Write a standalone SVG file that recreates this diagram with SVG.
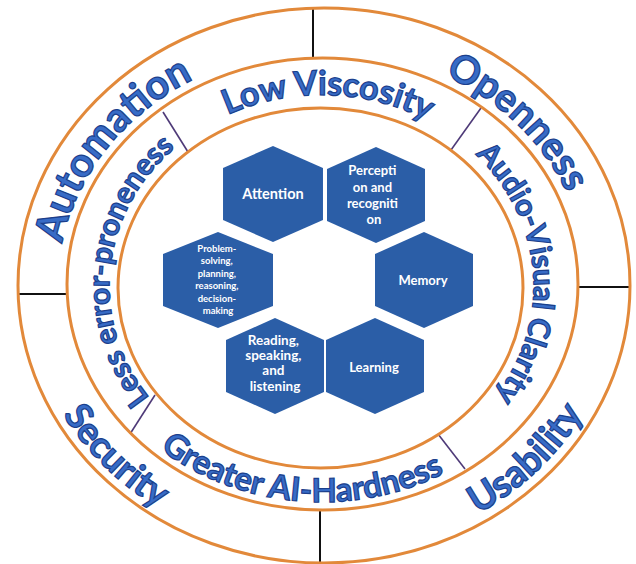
<svg xmlns="http://www.w3.org/2000/svg" xmlns:xlink="http://www.w3.org/1999/xlink" width="636" height="564" viewBox="0 0 636 564">
  <style>
    .ring { fill: none; stroke: #e2893a; stroke-width: 3; }
    .divider { stroke: #111111; stroke-width: 2; }
    .tick { stroke: #4e3a78; stroke-width: 1.6; }
    .hex { fill: #2b5ea7; }
    .hex-label { fill: #ffffff; font-family: Lato, "Noto Sans", sans-serif; font-weight: 700; text-anchor: middle; }
    .arc-label { font-family: Lato, "Noto Sans", sans-serif; font-weight: 700; fill: #376bc6; stroke: #1b3f8c; stroke-width: 1.2; }
  </style>
  <defs>
    <polygon id="hex" points="0,-48 49,-26 49,26 0,48 -49,26 -49,-26"/>
    <polygon id="hex-wide" points="0,-48 55,-26 55,26 0,48 -55,26 -55,-26"/>
    <!-- baselines for the ring labels -->
    <path id="p-low" d="M114.1,246.3 A212,191 0 0 1 531.4,259.4"/>
    <path id="p-audio" d="M343.7,96 A212,191 0 0 1 372.8,471.3"/>
    <path id="p-less" d="M266.6,470.5 A212,191 0 0 1 303,95.7"/>
    <path id="p-greater" d="M76.1,301.1 A246,216 0 0 0 558,345.5"/>
    <path id="p-auto" d="M142.3,457.6 A265,236 0 0 1 426.5,67.8"/>
    <path id="p-open" d="M190.5,80.6 A265,236 0 0 1 526,436.7"/>
    <path id="p-sec" d="M95.5,112.7 A297,268 0 0 0 471.5,517.1"/>
    <path id="p-usa" d="M170,514.7 A297,268 0 0 0 553.8,116.3"/>
  </defs>

  <rect width="636" height="564" fill="#ffffff"/>

  <!-- dividers between the ring segments -->
  <g id="connectors">
    <line class="divider" x1="313" y1="8" x2="313" y2="58"/>
    <line class="divider" x1="17" y1="294" x2="66" y2="294"/>
    <line class="divider" x1="579" y1="287" x2="630" y2="287"/>
    <line class="divider" x1="320" y1="510" x2="320" y2="563"/>
    <line class="tick" x1="163" y1="112" x2="188" y2="152"/>
    <line class="tick" x1="481" y1="108" x2="451" y2="150"/>
    <line class="tick" x1="155" y1="395" x2="130" y2="434"/>
    <line class="tick" x1="438" y1="434" x2="465" y2="469"/>
  </g>

  <!-- concentric rings -->
  <g id="rings">
    <ellipse class="ring" cx="324" cy="285.5" rx="306" ry="277.5"/>
    <ellipse class="ring" cx="322.5" cy="284" rx="255.5" ry="226"/>
    <ellipse class="ring" cx="320.5" cy="288" rx="202.5" ry="180"/>
  </g>

  <!-- outer ring labels -->
  <g id="automation"><text class="arc-label" font-size="41"><textPath xlink:href="#p-auto" href="#p-auto" startOffset="50%" text-anchor="middle">Automation</textPath></text></g>
  <g id="openness"><text class="arc-label" font-size="39"><textPath xlink:href="#p-open" href="#p-open" startOffset="50%" text-anchor="middle">Openness</textPath></text></g>
  <g id="security"><text class="arc-label" font-size="37"><textPath xlink:href="#p-sec" href="#p-sec" startOffset="50%" text-anchor="middle">Security</textPath></text></g>
  <g id="usability"><text class="arc-label" font-size="38"><textPath xlink:href="#p-usa" href="#p-usa" startOffset="50%" text-anchor="middle">Usability</textPath></text></g>

  <!-- middle ring labels -->
  <g id="low-viscosity"><text class="arc-label" font-size="34"><textPath xlink:href="#p-low" href="#p-low" startOffset="50%" text-anchor="middle">Low Viscosity</textPath></text></g>
  <g id="audio-visual-clarity"><text class="arc-label" font-size="30"><textPath xlink:href="#p-audio" href="#p-audio" startOffset="50%" text-anchor="middle">Audio-Visual Clarity</textPath></text></g>
  <g id="greater-ai-hardness"><text class="arc-label" font-size="33"><textPath xlink:href="#p-greater" href="#p-greater" startOffset="50%" text-anchor="middle">Greater AI-Hardness</textPath></text></g>
  <g id="less-error-proneness"><text class="arc-label" font-size="30"><textPath xlink:href="#p-less" href="#p-less" startOffset="50%" text-anchor="middle">Less error-proneness</textPath></text></g>

  <!-- cognitive-function hexagons -->
  <g id="attention">
    <use href="#hex" xlink:href="#hex" class="hex" transform="translate(273,194) scale(1.02,1)"/>
    <text class="hex-label" x="273" y="199" font-size="14.5">Attention</text>
  </g>
  <g id="perception">
    <use href="#hex" xlink:href="#hex" class="hex" transform="translate(376,195)"/>
    <text class="hex-label" font-size="13">
      <tspan x="374" y="175">Percepti</tspan>
      <tspan x="374" y="191.5">on and</tspan>
      <tspan x="374" y="208">recogniti</tspan>
      <tspan x="374" y="224">on</tspan>
    </text>
  </g>
  <g id="problem-solving">
    <use href="#hex-wide" xlink:href="#hex-wide" class="hex" transform="translate(218,280)"/>
    <text class="hex-label" font-size="9.5">
      <tspan x="218" y="251.5">Problem-</tspan>
      <tspan x="218" y="264">solving,</tspan>
      <tspan x="218" y="276.5">planning,</tspan>
      <tspan x="218" y="289">reasoning,</tspan>
      <tspan x="218" y="301.5">decision-</tspan>
      <tspan x="218" y="314">making</tspan>
    </text>
  </g>
  <g id="memory">
    <use href="#hex" xlink:href="#hex" class="hex" transform="translate(424,280)"/>
    <text class="hex-label" x="423" y="285" font-size="13">Memory</text>
  </g>
  <g id="reading">
    <use href="#hex" xlink:href="#hex" class="hex" transform="translate(275,366)"/>
    <text class="hex-label" font-size="13.5">
      <tspan x="275" y="345">Reading,</tspan>
      <tspan x="275" y="360">speaking,</tspan>
      <tspan x="275" y="375">and</tspan>
      <tspan x="275" y="391">listening</tspan>
    </text>
  </g>
  <g id="learning">
    <use href="#hex" xlink:href="#hex" class="hex" transform="translate(375,366)"/>
    <text class="hex-label" x="374" y="372" font-size="13">Learning</text>
  </g>
</svg>
